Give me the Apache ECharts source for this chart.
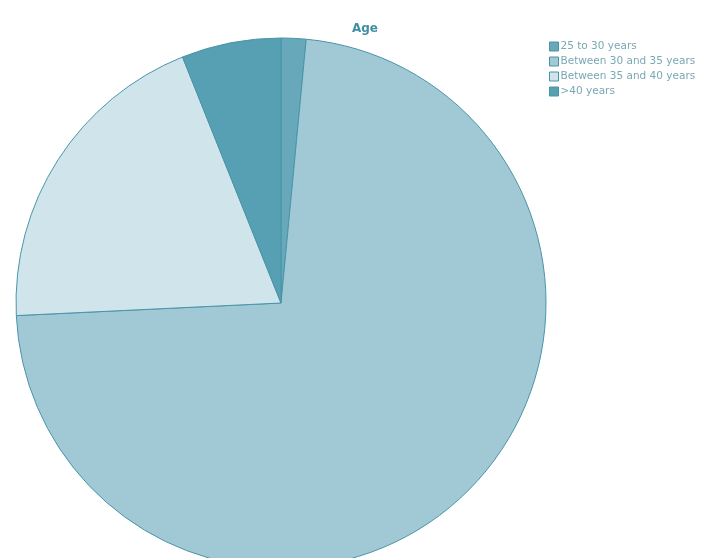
<!DOCTYPE html>
<html>
<head>
<meta charset="utf-8">
<script src="https://cdn.jsdelivr.net/npm/echarts@6/dist/echarts.min.js"></script>
<style>
html, body { margin: 0; padding: 0; background: #fff; }
#chart { width: 711px; height: 558px; }
</style>
</head>
<body>
<div id="chart"></div>
<script>
var categories = ['25 to 30 years', 'Between 30 and 35 years', 'Between 35 and 40 years', '>40 years'];
var counts = [1, 48, 13, 4];
var colors = ['#67a9bb', '#a1c9d5', '#d0e4eb', '#579fb2'];

var myChart = echarts.init(document.getElementById('chart'));
var option = {
    animation: false,
    title: {
        text: 'Age',
        left: 360,
        top: 18,
        textAlign: 'center',
        textStyle: {
            fontFamily: 'DejaVu Sans',
            fontSize: 12,
            fontWeight: 'bold',
            color: '#3f8fa4'
        }
    },
    legend: {
        orient: 'vertical',
        left: 549,
        top: 41,
        padding: 0,
        itemWidth: 9,
        itemHeight: 9,
        itemGap: 4,
        icon: 'rect',
        data: categories,
        textStyle: {
            fontFamily: 'DejaVu Sans',
            fontSize: 10.5,
            color: '#7aa8b5',
            padding: [0, 0, 0, -3]
        },
        itemStyle: {
            borderColor: '#4a94a8',
            borderWidth: 1
        }
    },
    series: [{
        type: 'pie',
        center: [281, 303],
        radius: 265,
        startAngle: 90,
        clockwise: true,
        label: { show: false },
        labelLine: { show: false },
        emphasis: { disabled: true },
        itemStyle: {
            borderColor: '#4a94a8',
            borderWidth: 1
        },
        data: categories.map(function (name, i) {
            return { name: name, value: counts[i], itemStyle: { color: colors[i] } };
        })
    }]
};
myChart.setOption(option);
</script>
</body>
</html>
